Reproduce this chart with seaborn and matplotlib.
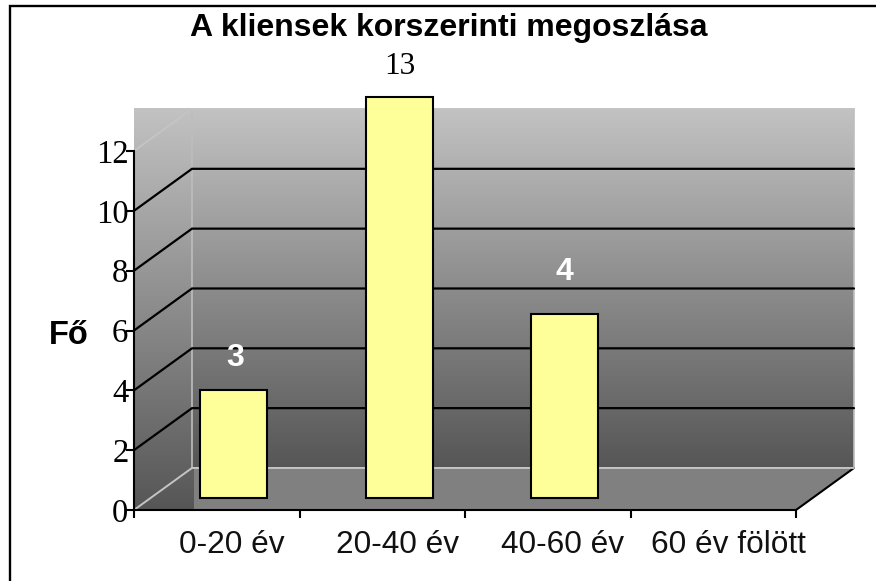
import numpy as np
import pandas as pd
import matplotlib
matplotlib.use("Agg")
import matplotlib.pyplot as plt
from matplotlib.colors import LinearSegmentedColormap
from matplotlib.lines import Line2D
from matplotlib.patches import Polygon
import seaborn as sns

# Data (bar heights do not agree with the printed labels)
categories = ["0-20 év", "20-40 év", "40-60 év", "60 év fölött"]
bar_groups = ["0-20 év", "20-40 év", "40-60 év"]
bar_heights = [3.6, 13.4, 6.15]
bar_labels = ["3", "13", "4"]
y_ticks = [0, 2, 4, 6, 8, 10, 12]

W, H = 876, 581
X0, X1 = 134, 796
Y0, Y12 = 510, 151
DX_BACK = 58 / 165.5   # depth offset in category units
DY_BACK = 42 / 29.9    # depth offset in value units

sns.set_theme(style="white")
plt.rcParams["font.family"] = "Liberation Sans"

fig = plt.figure(figsize=(W / 100, H / 100), dpi=100)
rect = [X0 / W, (H - Y0) / H, (X1 - X0) / W, (Y0 - Y12) / H]
ax = fig.add_axes(rect)

grad = LinearSegmentedColormap.from_list("wall", ["#c2c2c2", "#565656"])
g = np.linspace(0, 1, 256).reshape(-1, 1)
left = -0.5
right = 3.5
back_l = left + DX_BACK
back_r = right + DX_BACK

# left wall, back wall
ax.imshow(g, cmap=grad, aspect="auto", zorder=0, clip_on=False,
          extent=(left, back_l + 0.015, 0, 12 + DY_BACK))
ax.imshow(g, cmap=grad, aspect="auto", zorder=0.5, clip_on=False,
          extent=(back_l, back_r, DY_BACK, 12 + DY_BACK))
ax.set_xlim(left, right)
ax.set_ylim(0, 12)

# floor
ax.add_patch(Polygon([(back_l + 0.012, 0), (back_l + 0.012, DY_BACK), (back_r, DY_BACK), (right, 0)],
                     closed=True, fc="#808080", ec="none", zorder=1, clip_on=False))
ax.plot([right, back_r], [0, DY_BACK], color="black", lw=1.5, zorder=2, clip_on=False)

# grid lines on the back and side walls
for v in y_ticks[1:-1]:
    ax.plot([left, back_l, back_r], [v, v + DY_BACK, v + DY_BACK], color="black", lw=1.6,
            zorder=2, clip_on=False, solid_joinstyle="miter")
for v in [0, 12]:
    ax.plot([left, back_l, back_r], [v, v + DY_BACK, v + DY_BACK], color="#c4c4c4", lw=1.4,
            zorder=2, clip_on=False)
ax.plot([back_l, back_l], [DY_BACK, 12 + DY_BACK], color="#bdbdbd", lw=1.2, zorder=1.5, clip_on=False)
ax.plot([back_r, back_r], [DY_BACK, 12 + DY_BACK], color="#bdbdbd", lw=1.2, zorder=1.5, clip_on=False)

# axes
ax.patch.set_alpha(0)
for s in ["top", "right"]:
    ax.spines[s].set_visible(False)
for s in ["left", "bottom"]:
    ax.spines[s].set_linewidth(1.5)
    ax.spines[s].set_color("black")
    ax.spines[s].set_zorder(3)
ax.set_yticks(y_ticks)
ax.set_yticklabels([str(v) for v in y_ticks], fontfamily="Liberation Serif", fontsize=23.5, color="black")
ax.set_xticks(np.arange(0, 5) - 0.5)
ax.set_xticklabels([])
ax.tick_params(axis="both", direction="out", length=6, width=1.5, color="black", left=True, bottom=True,
               pad=-2, zorder=3)
for i, name in enumerate(categories):
    ax.text(i + 0.09, -1.16, name, ha="center", va="center", fontsize=22.8, color="#111111")

# bars sit half way into the depth, on their own overlaid axes
bar_ax = fig.add_axes([(X0 + 17) / W, (H - 498) / H, (X1 - X0) / W, (Y0 - Y12) / H])
bar_ax.patch.set_alpha(0)
df = pd.DataFrame({"group": bar_groups, "n": bar_heights})
sns.barplot(data=df, x="group", y="n", order=categories, ax=bar_ax, color="#ffff99", saturation=1,
            width=0.405, edgecolor="black", linewidth=1.5)
bar_ax.set_xlim(-0.5, 3.5)
bar_ax.set_ylim(0, 12)
bar_ax.axis("off")
for c in bar_ax.patches:
    c.set_clip_on(False)

bar_ax.text(1.005, 14.42, bar_labels[1], ha="center", va="center", fontsize=22.5, color="black",
            fontfamily="Liberation Serif", clip_on=False)
for i, yv, dx in [(0, 4.67, 0.01), (2, 7.55, 0.0)]:
    bar_ax.text(i + dx, yv, bar_labels[i], ha="center", va="center", fontsize=23, color="white",
                fontweight="bold", clip_on=False)

fig.text(449 / W, 1 - 28 / H, "A kliensek korszerinti megoszlása", ha="center", va="center",
         fontsize=23, fontweight="bold", color="black")
fig.text(69 / W, 1 - 336 / H, "Fő", ha="center", va="center", fontsize=23.5, fontweight="bold", color="black")

# chart frame: only the top and left edges fall inside the picture
fig.add_artist(Line2D([10 / W, 10 / W, 1], [0, 1 - 6 / H, 1 - 6 / H], transform=fig.transFigure,
                      color="black", lw=1.7, solid_joinstyle="miter"))

fig.savefig("out.png", dpi=100)
